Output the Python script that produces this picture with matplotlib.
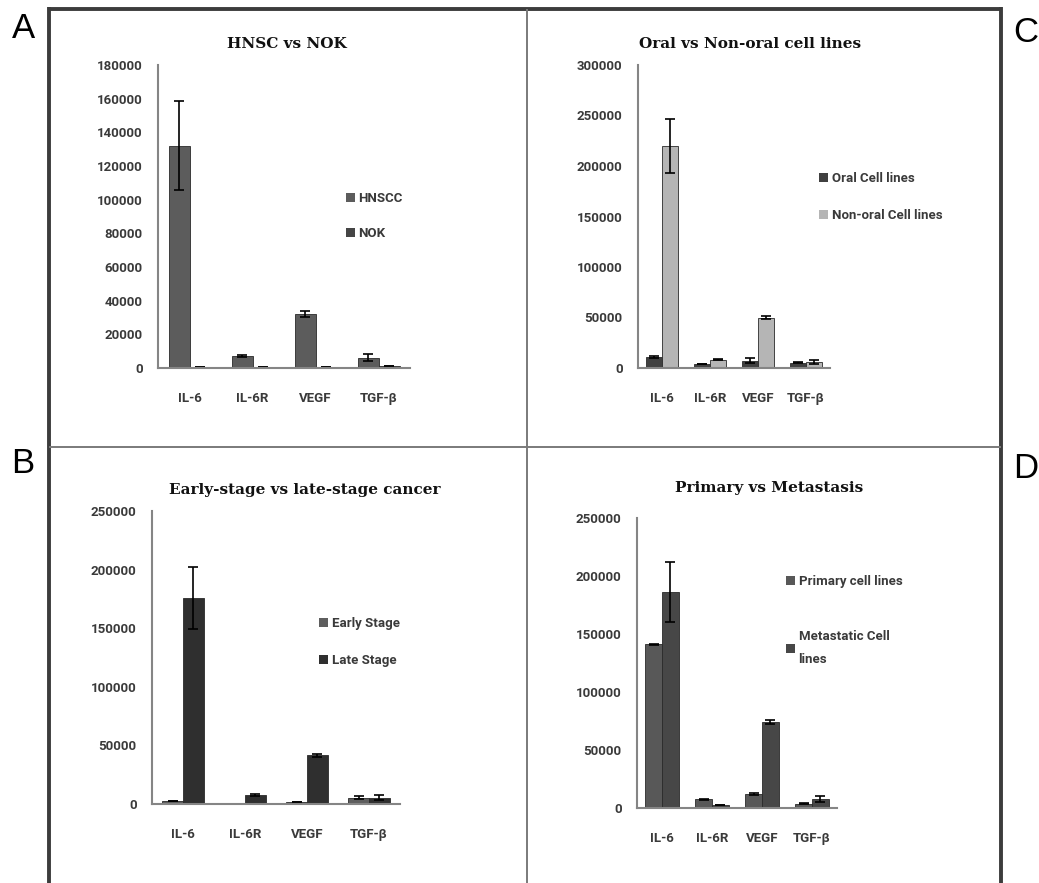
import matplotlib.pyplot as plt
from matplotlib.lines import Line2D
import numpy as np

W, H = 1039, 883
DPI = 100

categories = ['IL-6', 'IL-6R', 'VEGF', 'TGF-β']

# panel A
hnscc = [132000, 7000, 32000, 6200]
hnscc_err = [26500, 600, 1800, 2000]
nok = [600, 400, 500, 1200]
nok_err = [0, 0, 0, 200]

# panel C
oral = [10500, 4000, 7000, 5000]
oral_err = [900, 400, 2500, 500]
nonoral = [220000, 8000, 50000, 6000]
nonoral_err = [26500, 500, 1500, 1800]

# panel B
early = [2500, 0, 1500, 5500]
early_err = [0, 0, 0, 1000]
late = [176000, 8000, 41500, 5500]
late_err = [26500, 800, 1000, 2500]

# panel D
primary = [141000, 7500, 12000, 3800]
primary_err = [500, 500, 800, 500]
metastatic = [186000, 2500, 74000, 8000]
metastatic_err = [26000, 300, 1500, 2500]

TICK_FONT = dict(family='Roboto', weight='bold', size=9.5)
TITLE_FONT = dict(family='DejaVu Serif', weight='bold', size=11)


def px_axes(fig, left, top, right, bottom):
    return fig.add_axes([left / W, 1 - bottom / H, (right - left) / W, (bottom - top) / H])


def panel(fig, box, title, title_xy, s1, e1, s2, e2, labels, colors, ymax, ystep,
          legend_xy, spacing=1.7, linespacing=1.55):
    ax = px_axes(fig, *box)
    x = np.arange(len(categories))
    w = 1 / 3
    ekw = dict(ecolor='black', elinewidth=1.2, capsize=3.5, capthick=1.2)
    ax.bar(x - w / 2, s1, w, yerr=e1, color=colors[0], edgecolor='#2a2a2a', linewidth=0.6,
           label=labels[0], error_kw=ekw)
    ax.bar(x + w / 2, s2, w, yerr=e2, color=colors[1], edgecolor='#2a2a2a', linewidth=0.6,
           label=labels[1], error_kw=ekw)
    ax.set_xlim(-0.5, len(categories) - 0.5)
    ax.set_ylim(0, ymax)
    ax.set_yticks(np.arange(0, ymax + 1, ystep))
    ax.set_xticks(x)
    ax.set_xticklabels(categories)
    for lab in ax.get_xticklabels() + ax.get_yticklabels():
        lab.set_fontfamily(TICK_FONT['family'])
        lab.set_fontweight(TICK_FONT['weight'])
        lab.set_fontsize(TICK_FONT['size'])
        lab.set_color('#3a3a3a')
    ax.tick_params(axis='x', length=0, pad=17)
    ax.tick_params(axis='y', length=0, pad=11)
    for s in ['top', 'right']:
        ax.spines[s].set_visible(False)
    for s in ['left', 'bottom']:
        ax.spines[s].set_color('#858585')
        ax.spines[s].set_linewidth(1.5)
    leg = ax.legend(loc='upper left', bbox_to_anchor=(legend_xy[0] / W, 1 - legend_xy[1] / H),
                    bbox_transform=fig.transFigure, frameon=False,
                    prop=dict(family='Roboto', weight='bold', size=9.5),
                    handlelength=0.65, handleheight=0.65, handletextpad=0.3,
                    labelspacing=spacing, borderpad=0, borderaxespad=0)
    for t in leg.get_texts():
        t.set_color('#3a3a3a')
        t.set_linespacing(linespacing)
    for hnd in leg.legend_handles:
        hnd.set_linewidth(0)
    fig.text(title_xy[0] / W, 1 - title_xy[1] / H, title, ha='center', va='center',
             color='#111111', **TITLE_FONT)
    return ax


fig = plt.figure(figsize=(W / DPI, H / DPI), dpi=DPI)

panel(fig, (158, 65, 410, 368), 'HNSC vs NOK', (287, 44),
      hnscc, hnscc_err, nok, nok_err, ['HNSCC', 'NOK'], ['#5c5c5c', '#454545'],
      180000, 20000, (346, 192), 1.7)
panel(fig, (638, 65, 830, 368), 'Oral vs Non-oral cell lines', (750, 44),
      oral, oral_err, nonoral, nonoral_err, ['Oral Cell lines', 'Non-oral Cell lines'],
      ['#404040', '#b5b5b5'], 300000, 50000, (819, 172), 1.85)
panel(fig, (152, 511, 400, 804), 'Early-stage vs late-stage cancer', (305, 490),
      early, early_err, late, late_err, ['Early Stage', 'Late Stage'],
      ['#5e5e5e', '#2f2f2f'], 250000, 50000, (319, 617), 1.85)
panel(fig, (637, 518, 837, 808), 'Primary vs Metastasis', (769, 488),
      primary, primary_err, metastatic, metastatic_err,
      ['Primary cell lines', 'Metastatic Cell\nlines'],
      ['#585858', '#474747'], 250000, 50000, (786, 575), 3.2, 2.0)

# frame around the four panels
def fline(xs, ys, lw, color):
    fig.add_artist(Line2D([v / W for v in xs], [1 - v / H for v in ys],
                          transform=fig.transFigure, lw=lw, color=color,
                          solid_capstyle='butt'))

fline([49, 1001], [9, 9], 2.8, '#3c3c3c')
fline([49, 49], [7, H], 2.8, '#3c3c3c')
fline([1001, 1001], [7, H], 2.8, '#3c3c3c')
fline([527, 527], [9, H], 1.4, '#7a7a7a')
fline([49, 1001], [447, 447], 1.4, '#7a7a7a')

letter = dict(family='Liberation Sans', size=25, color='black', ha='center', va='center')
fig.text(23 / W, 1 - 29 / H, 'A', **letter)
fig.text(1026 / W, 1 - 32 / H, 'C', **letter)
fig.text(23 / W, 1 - 464 / H, 'B', **letter)
fig.text(1026 / W, 1 - 468 / H, 'D', **letter)

fig.savefig('out.png', dpi=DPI)
